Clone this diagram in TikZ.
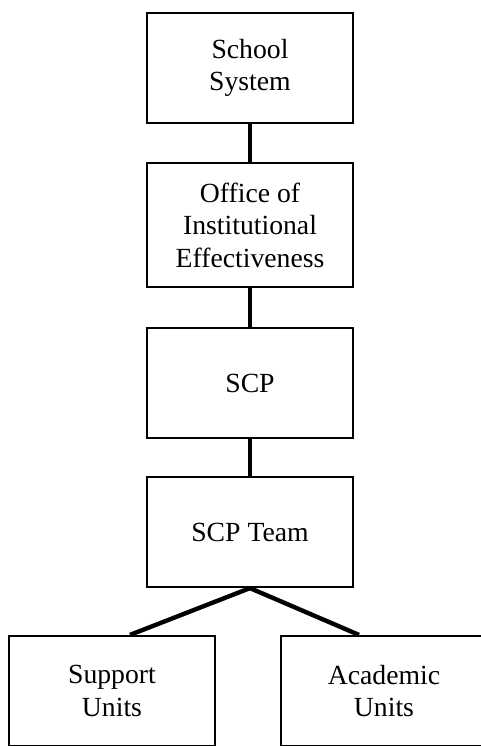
\documentclass[tikz,border=0pt]{standalone}
\usepackage{fontspec}
\setmainfont{Liberation Serif}
\begin{document}
\begin{tikzpicture}[x=1pt,y=-1pt,
  unitbox/.style={draw=black, line width=2.2pt, fill=white,
    minimum width=206pt, minimum height=110pt, inner sep=0pt,
    align=center, font=\fontsize{27.7}{32.5}\selectfont},
  link/.style={line width=4.4pt}]
  \useasboundingbox (0,0) rectangle (481,746);
  \clip (0,0) rectangle (481,746);

  % chain of offices
  \node[unitbox] (sys)  at (250,68)  {School\\System};
  \node[unitbox, minimum height=124pt] (oie) at (250,225)
    {Office of\\Institutional\\Effectiveness};
  \node[unitbox] (scp)  at (250,383) {SCP};
  \node[unitbox] (team) at (250,532) {SCP Team};

  % units under the team
  \node[unitbox] (sup)  at (112,691) {Support\\Units};
  \node[unitbox] (acad) at (384,691) {Academic\\Units};

  % connectors
  \draw[link] (sys.south)  -- (oie.north);
  \draw[link] (oie.south)  -- (scp.north);
  \draw[link] (scp.south)  -- (team.north);
  \draw[link] (team.south) -- ([xshift=18pt]sup.north);
  \draw[link] (team.south) -- ([xshift=-25pt]acad.north);
\end{tikzpicture}
\end{document}
